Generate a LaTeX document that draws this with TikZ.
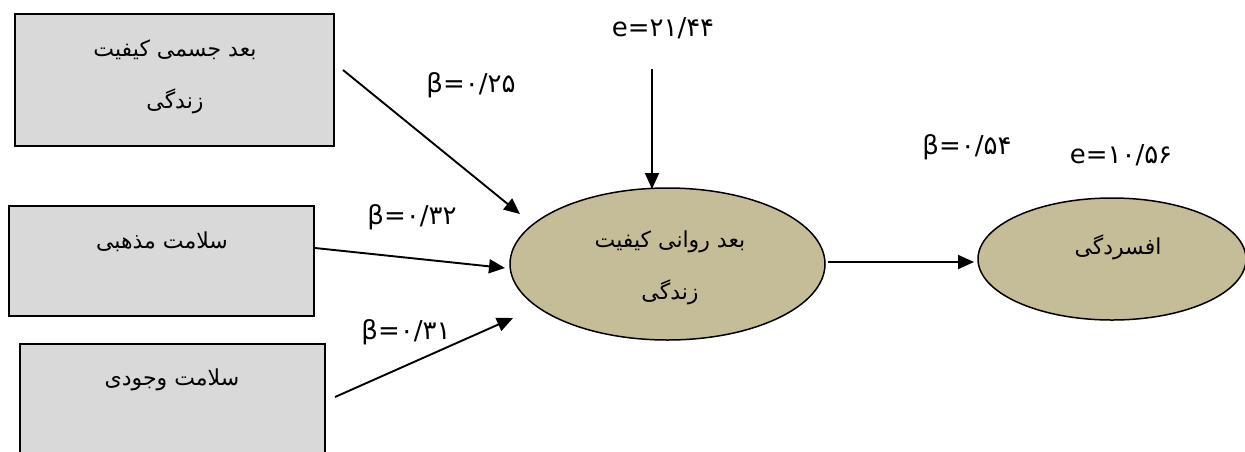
\documentclass[tikz,border=0pt]{standalone}
\usepackage{fontspec}
\setmainfont{DejaVu Sans}
\newfontfamily\arabicfont[Script=Arabic]{DejaVu Sans}
\TeXXeTstate=1
\usetikzlibrary{shapes.geometric,arrows.meta}
\definecolor{boxgray}{RGB}{217,217,217}
\definecolor{ovaltan}{RGB}{196,189,151}
\begin{document}
\begin{tikzpicture}[x=1pt,y=-1pt,
 box/.style={draw=black, line width=2pt, fill=boxgray, rectangle, inner sep=0pt},
 oval/.style={draw=black, line width=1.5pt, fill=ovaltan, ellipse, inner sep=0pt},
 fa/.style={font=\arabicfont\fontsize{22}{52}\selectfont, align=center, inner sep=0pt},
 lbl/.style={font=\fontsize{26}{30}\selectfont, inner sep=0pt},
 arr/.style={line width=1.9pt, -{Triangle[length=16pt,width=14pt]}}]
\useasboundingbox (0,0) rectangle (1245,451);
\clip (0,0) rectangle (1245,451);
% boxes
\node[box, minimum width=319pt, minimum height=132pt] (b1) at (174.5,80) {};
\node[box, minimum width=305pt, minimum height=110pt] (b2) at (161.5,261) {};
\node[box, minimum width=305pt, minimum height=130pt] (b3) at (172.5,409) {};
% ovals
\node[oval, minimum width=315pt, minimum height=152pt] (o1) at (667.5,264) {};
\node[oval, minimum width=268pt, minimum height=122pt] (o2) at (1112,259) {};
% texts
\node[fa] (t1) at (175,77) {\beginR بعد جسمی کیفیت\endR\\\beginR زندگی\endR};
\node[fa] (t2) at (162,242) {\beginR سلامت مذهبی\endR};
\node[fa] (t3) at (172,380) {\beginR سلامت وجودی\endR};
\node[fa] (t4) at (670,268) {\beginR بعد روانی کیفیت\endR\\\beginR زندگی\endR};
\node[fa] (t5) at (1118,247) {\beginR افسردگی\endR};
% labels
\node[lbl] (e1) at (663,28) {e=۲۱/۴۴};
\node[lbl] (l1) at (471,85) {β=۰/۲۵};
\node[lbl] (l2) at (412,217) {β=۰/۳۲};
\node[lbl] (l3) at (406,332) {β=۰/۳۱};
\node[lbl] (l4) at (967,147) {β=۰/۵۴};
\node[lbl] (e2) at (1121,155) {e=۱۰/۵۶};
% arrow ends
\coordinate (s1) at (343,70);
\coordinate (a1) at (520,214);
\coordinate (s2) at (315,248);
\coordinate (a2) at (505,268);
\coordinate (s3) at (335,397);
\coordinate (a3) at (513,318);
\coordinate (s4) at (652,69);
\coordinate (a4) at (652,189);
\coordinate (s5) at (828,262);
\coordinate (a5) at (974,262);
\draw[arr] (s1) -- (a1);
\draw[arr] (s2) -- (a2);
\draw[arr] (s3) -- (a3);
\draw[arr] (s4) -- (a4);
\draw[arr] (s5) -- (a5);
\end{tikzpicture}
\end{document}
